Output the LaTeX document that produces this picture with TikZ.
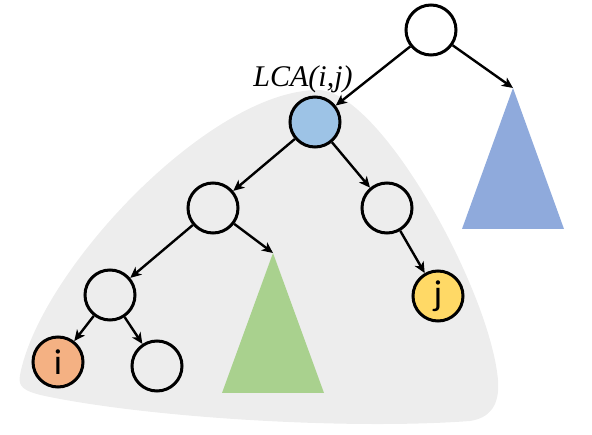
\documentclass[tikz,border=0pt]{standalone}
\usepackage{fontspec}
\setmainfont{Liberation Serif}
\newfontfamily\lblfont{Carlito}
\usetikzlibrary{arrows.meta}
\definecolor{blobgray}{HTML}{EDEDED}
\definecolor{lcablue}{HTML}{9DC3E6}
\definecolor{triblue}{HTML}{8FAADC}
\definecolor{trigreen}{HTML}{A9D18E}
\definecolor{iorange}{HTML}{F4B183}
\definecolor{jyellow}{HTML}{FFD966}
\tikzset{
  tnode/.style={circle,draw=black,line width=3pt,minimum size=50pt,inner sep=0pt,fill=white,
    font=\lblfont\fontsize{36}{36}\selectfont},
  edge/.style={line width=2.4pt,-{Stealth[length=11pt,width=10pt,inset=3pt]}},
}
\begin{document}
\begin{tikzpicture}[x=1pt,y=-1pt]
\useasboundingbox (0,0) rectangle (592,435);
% gray region
\fill[blobgray] (20,375) .. controls (40,270) and (210,90) .. (318,90)
  .. controls (380,90) and (490,290) .. (498,380)
  .. controls (500,405) and (490,418) .. (470,421)
  .. controls (350,430) and (150,418) .. (45,396)
  .. controls (22,391) and (18,386) .. (20,375) -- cycle;
% triangles
\coordinate (btop) at (513,88);
\coordinate (gtop) at (273,253);
\fill[triblue] (btop) -- (564,229) -- (462,229) -- cycle;
\fill[trigreen] (gtop) -- (324,393) -- (222,393) -- cycle;
% nodes
\node[tnode] (root) at (431,30) {};
\node[tnode,fill=lcablue] (lca) at (315,122) {};
\node[tnode,fill=none] (l) at (213,208) {};
\node[tnode,fill=none] (r) at (387,208) {};
\node[tnode,fill=none] (ll) at (110,295) {};
\node[tnode,fill=jyellow] (j) at (438,296) {j};
\node[tnode,fill=iorange] (i) at (58,362) {i};
\node[tnode,fill=none] (lr) at (157,366) {};
\node[font=\itshape\fontsize{30}{30}\selectfont] (lbl) at (303,79) {LCA(i,j)};
% edges
\draw[edge] (root) -- (lca);
\draw[edge] (root) -- (btop);
\draw[edge] (lca) -- (l);
\draw[edge] (lca) -- (r);
\draw[edge] (l) -- (ll);
\draw[edge] (l) -- (gtop);
\draw[edge] (r) -- (j);
\draw[edge] (ll) -- (i);
\draw[edge] (ll) -- (lr);
\end{tikzpicture}
\end{document}
